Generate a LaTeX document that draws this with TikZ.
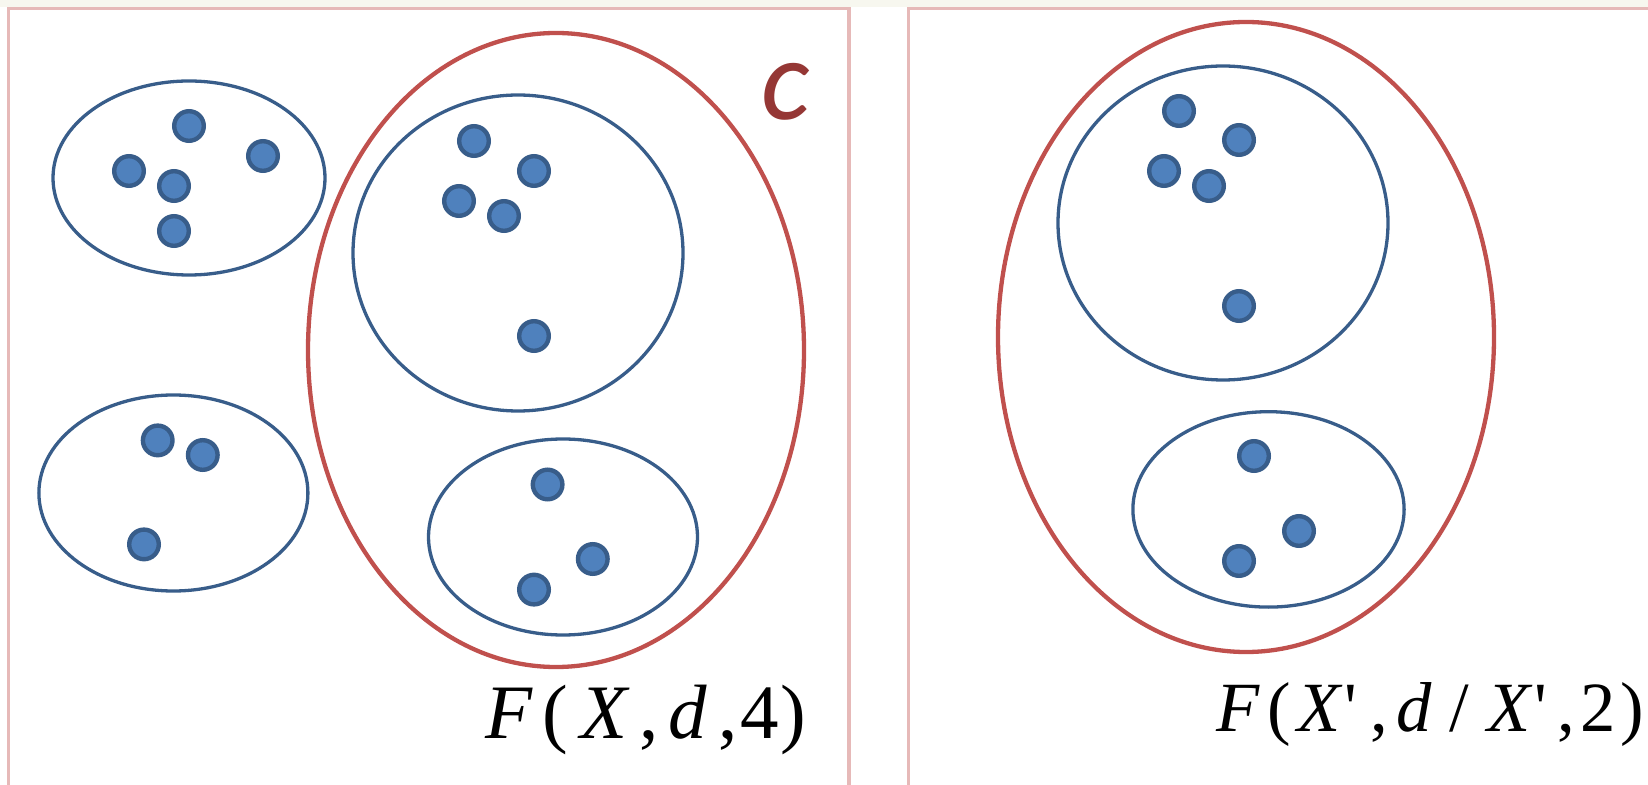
\documentclass[tikz,border=0pt]{standalone}
\usepackage{fontspec}
\newfontfamily\tnr[Ligatures=TeXOff]{Liberation Serif}
\newfontfamily\carlitoit{Carlito Italic}
\definecolor{framec}{HTML}{E6B9B8}
\definecolor{clblue}{HTML}{385D8A}
\definecolor{dotfill}{HTML}{4F81BD}
\definecolor{ringred}{HTML}{C0504D}
\definecolor{lblred}{HTML}{953735}
\definecolor{strip}{HTML}{F7F7EF}
\begin{document}
\begin{tikzpicture}[x=0.5pt,y=-0.5pt,
  panel/.style={draw=framec,line width=1.65pt},
  cluster/.style={draw=clblue,line width=1.65pt},
  supercl/.style={draw=ringred,line width=2.15pt},
  pt/.style={circle,draw=clblue,fill=dotfill,line width=2.2pt,minimum size=14.8pt,inner sep=0pt},
  formula/.style={inner sep=0pt,anchor=base west,font=\tnr}
]
\useasboundingbox (0,0) rectangle (1648,785);
\clip (0,0) rectangle (1648,785);
\fill[strip] (0,0) rectangle (1648,7);
\draw[panel] (8.4,8.3) rectangle (849,830);
\draw[panel] (908.7,8.3) rectangle (1700,830);

% left panel
\draw[cluster] (189,178) ellipse [x radius=136, y radius=97];
\node[pt] (a1) at (189,126) {};
\node[pt] (a2) at (263,156) {};
\node[pt] (a3) at (129,171) {};
\node[pt] (a4) at (174,186) {};
\node[pt] (a5) at (174,231) {};

\draw[cluster] (173.4,493) ellipse [x radius=134.5, y radius=98];
\node[pt] (b1) at (157.7,440.4) {};
\node[pt] (b2) at (202.8,455) {};
\node[pt] (b3) at (144,544.4) {};

\draw[supercl] (556,350) ellipse [x radius=248, y radius=317];
\draw[cluster] (518,253) ellipse [x radius=165, y radius=158];
\node[pt] (c1) at (474,141) {};
\node[pt] (c2) at (534,171) {};
\node[pt] (c3) at (459,201) {};
\node[pt] (c4) at (504,216) {};
\node[pt] (c5) at (534,336) {};

\draw[cluster] (563,537) ellipse [x radius=134.5, y radius=98];
\node[pt] (d1) at (547.6,484.5) {};
\node[pt] (d2) at (592.8,559) {};
\node[pt] (d3) at (534,589.6) {};

\node[inner sep=0pt,text=lblred,font=\carlitoit\fontsize{58}{58}\selectfont] (clab) at (786,92) {c};

\node[formula,font=\tnr\fontsize{38.5}{40}\selectfont] (f1) at (485,738)
  {\itshape F\kern5pt\upshape(\kern6pt\itshape X\kern6pt\upshape,\kern5pt\itshape d\kern6pt\upshape,\kern1pt4\kern1pt)};

% right panel
\draw[supercl] (1246,337) ellipse [x radius=248, y radius=315];
\draw[cluster] (1223,223) ellipse [x radius=165, y radius=157];
\node[pt] (e1) at (1179,111) {};
\node[pt] (e2) at (1239,140) {};
\node[pt] (e3) at (1164,171) {};
\node[pt] (e4) at (1209,186) {};
\node[pt] (e5) at (1239,306) {};

\draw[cluster] (1268.5,509.4) ellipse [x radius=135.6, y radius=97.7];
\node[pt] (g1) at (1254,456) {};
\node[pt] (g2) at (1299,531) {};
\node[pt] (g3) at (1239,561) {};

\node[formula,font=\tnr\fontsize{35.3}{37}\selectfont] (f2) at (1216,731.7)
  {\itshape F\kern4pt\upshape(\kern3pt\itshape X\kern2pt\upshape'\kern7pt,\kern4pt\itshape d\kern9pt\upshape/\kern9pt\itshape X\kern2pt\upshape'\kern5pt,\kern3pt2\kern2pt)};
\end{tikzpicture}
\end{document}
